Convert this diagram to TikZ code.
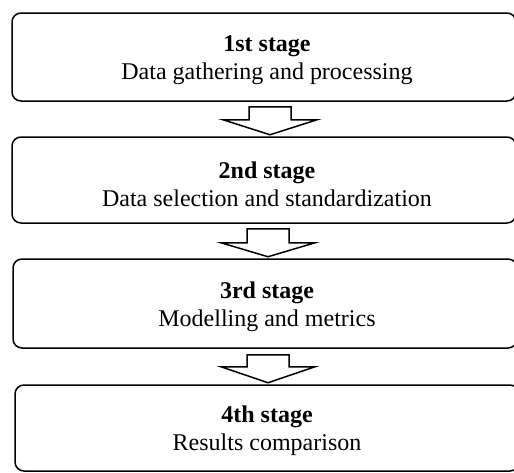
\documentclass[tikz,border=0pt]{standalone}
\usepackage{fontspec}
\setmainfont{Liberation Serif}
\usetikzlibrary{calc}
\newcommand\blockarr[3]{%
  \draw[blockarrow] (#1) ++(-21,0) -- ++(42,0) -- ++(0,#2) -- ++(26,0)
    -- ++(-47,#3) -- ++(-47,-#3) -- ++(26,0) -- cycle;}
\begin{document}
\begin{tikzpicture}[x=1pt,y=-1pt,
  stagebox/.style={draw, line width=1.5pt, rounded corners=9pt, inner sep=0pt, minimum width=504pt},
  stagetext/.style={align=center, font=\fontsize{24}{28}\selectfont, inner sep=0pt},
  blockarrow/.style={draw, line width=1.5pt, fill=white, line join=miter}]
\clip (0,0) rectangle (514,472);
\fill[white] (0,0) rectangle (514,472);
% boxes
\node[stagebox, minimum height=88pt] (b1) at (264,57) {};
\node[stagebox, minimum height=86pt] (b2) at (264,180) {};
\node[stagebox, minimum height=89pt] (b3) at (265,303.5) {};
\node[stagebox, minimum height=86pt] (b4) at (267,428) {};
% texts
\node[stagetext] (t1) at (267,60.5) {\textbf{1st stage}\\Data gathering and processing};
\node[stagetext] (t2) at (267,184.5) {\textbf{2nd stage}\\Data selection and standardization};
\node[stagetext] (t3) at (267,306.5) {\textbf{3rd stage}\\Modelling and metrics};
\node[stagetext] (t4) at (267,430.5) {\textbf{4th stage}\\Results comparison};
% arrows
\coordinate (a1) at ($(b1.south)+(6,5)$);
\coordinate (a2) at ($(b2.south)+(4,5)$);
\coordinate (a3) at ($(b3.south)+(3,6)$);
\blockarr{a1}{13}{15}
\blockarr{a2}{14}{14}
\blockarr{a3}{12}{16}
\end{tikzpicture}
\end{document}
